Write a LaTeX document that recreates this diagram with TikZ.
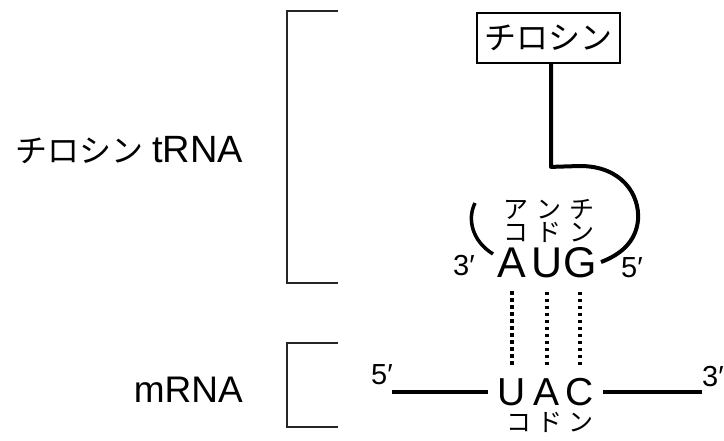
\documentclass[tikz,border=0pt]{standalone}
\usepackage{fontspec}
\setmainfont{Liberation Sans}
\newfontfamily\jp{Noto Sans CJK JP}
\begin{document}
\begin{tikzpicture}[x=1pt,y=-1pt,
  bracketline/.style={line width=1.6pt, draw=black!85, line join=miter},
  strand/.style={line width=4pt, draw=black},
  pairline/.style={line width=3.2pt, dash pattern=on 3.5pt off 3.5pt},
  nucleo/.style={inner sep=0pt, anchor=base},
  primelabel/.style={inner sep=0pt, font=\fontsize{29}{29}\selectfont},
  jplabel/.style={inner sep=0pt, text height=14pt, text depth=0pt, font=\jp\fontsize{25}{25}\selectfont},
]
\useasboundingbox[fill=white] (0,0) rectangle (724,441);

% brackets
\coordinate (tb1) at (338,11);
\coordinate (tb2) at (287,11);
\coordinate (tb3) at (287,283);
\coordinate (tb4) at (338,283);
\draw[bracketline] (tb1) -- (tb2) -- (tb3) -- (tb4);
\coordinate (mb1) at (338,343);
\coordinate (mb2) at (287,343);
\coordinate (mb3) at (287,427);
\coordinate (mb4) at (338,427);
\draw[bracketline] (mb1) -- (mb2) -- (mb3) -- (mb4);

% left labels
\node[inner sep=0pt, anchor=base east] (trna) at (243,163)
  {{\jp\fontsize{32}{32}\selectfont チロシン}\hspace{9pt}{\fontsize{38}{38}\selectfont tRNA}};
\node[inner sep=0pt, anchor=base east, font=\fontsize{37}{37}\selectfont] (mrna) at (243,402) {mRNA};

% tyrosine box
\node[draw, line width=1.8pt, minimum width=143pt, minimum height=50pt, inner sep=0pt,
      font=\jp\fontsize{32}{32}\selectfont] (tyr) at (548.5,38) {チロシン};

% tRNA stem and loop
\coordinate (loopEnd) at (601,262);
\draw[strand, line join=round] ([xshift=2.5pt]tyr.south) -- ++(0,103) -- (580,166)
   .. controls (622,166) and (640,195) .. (638,220)
   .. controls (636,242) and (620,255) .. (loopEnd);
\coordinate (arcTop) at (475,203);
\coordinate (arcEnd) at (493,254);
\draw[line width=3.5pt] (arcTop) .. controls (467,219) and (472,241) .. (arcEnd);

% anticodon
\node[nucleo, font=\fontsize{43}{43}\selectfont] (a1) at (512,277) {A};
\node[nucleo, font=\fontsize{43}{43}\selectfont] (a2) at (547,277) {U};
\node[nucleo, font=\fontsize{43}{43}\selectfont] (a3) at (580,277) {G};
\node[jplabel] (ac1) at (549,212) {ア\kern8ptン\kern8ptチ};
\node[jplabel] (ac2) at (549,234.5) {コ\kern8ptド\kern8ptン};
\node[primelabel, anchor=base west] (p3a) at (453,276) {3′};
\node[primelabel, anchor=base west] (p5a) at (621,277) {5′};

% codon
\node[nucleo, font=\fontsize{39}{39}\selectfont] (m1) at (512,405) {U};
\node[nucleo, font=\fontsize{39}{39}\selectfont] (m2) at (547,405) {A};
\node[nucleo, font=\fontsize{39}{39}\selectfont] (m3) at (580,405) {C};
\node[jplabel, font=\jp\fontsize{25}{25}\selectfont, text height=13pt] (cod) at (550,425) {コ\kern6ptド\kern6ptン};

% pairing
\draw[pairline] ([yshift=-14pt]a1.south) -- ([yshift=12pt]m1.north);
\draw[pairline] ([yshift=-14pt]a2.south) -- ([yshift=12pt]m2.north);
\draw[pairline] ([yshift=-14pt]a3.south) -- ([yshift=12pt]m3.north);

% mRNA strand
\node[primelabel, anchor=base] (p5m) at (382,384) {5′};
\node[primelabel, anchor=base west] (p3m) at (702,386) {3′};
\coordinate (ml1) at (392,392);
\coordinate (ml2) at (488,392);
\coordinate (mr1) at (603,392);
\coordinate (mr2) at (702,392);
\draw[strand] (ml1) -- (ml2);
\draw[strand] (mr1) -- (mr2);
\end{tikzpicture}
\end{document}
